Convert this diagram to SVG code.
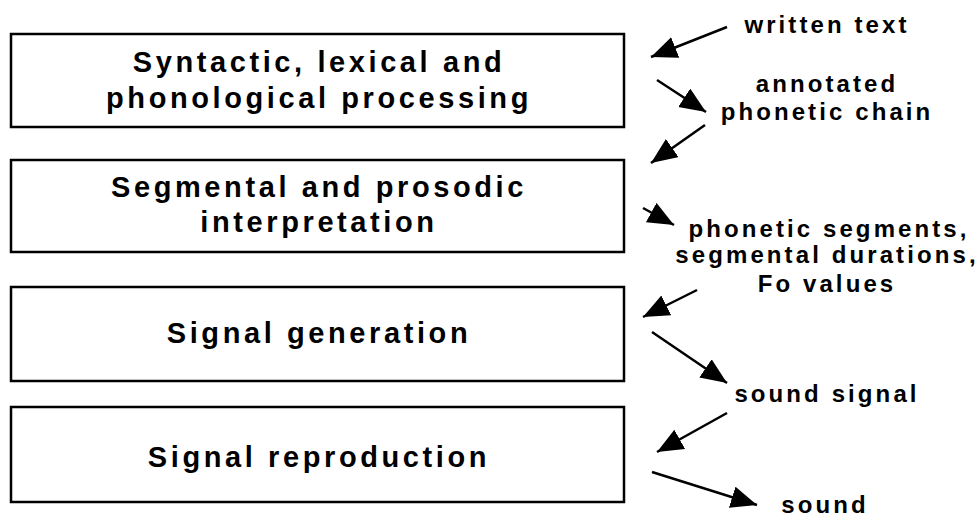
<svg xmlns="http://www.w3.org/2000/svg" width="979" height="518" viewBox="0 0 979 518">
<style>
.box{fill:#fff;stroke:#000;stroke-width:2.5}
.bt{font-family:"Liberation Sans",Arial,sans-serif;font-weight:bold;font-size:29px;letter-spacing:3.6px;text-anchor:middle;fill:#000}
.lt{font-family:"Liberation Sans",Arial,sans-serif;font-weight:bold;font-size:24px;letter-spacing:3.1px;text-anchor:middle;fill:#000}
.ar{stroke:#000;stroke-width:2.5;fill:none;marker-end:url(#ah)}
</style>
<defs>
<marker id="ah" markerUnits="userSpaceOnUse" markerWidth="28" markerHeight="24" refX="26" refY="11" orient="auto">
<path d="M0,0 L26,11 L0,22 z" fill="#000"/>
</marker>
</defs>
<rect width="979" height="518" fill="#fff"/>
<g id="node1"><rect class="box" x="11" y="34" width="613" height="93"/>
<text class="bt" x="319" y="72">Syntactic, lexical and</text>
<text class="bt" x="319" y="108">phonological processing</text></g>
<g id="node2"><rect class="box" x="11" y="160" width="613" height="92"/>
<text class="bt" x="319" y="197">Segmental and prosodic</text>
<text class="bt" x="319" y="232">interpretation</text></g>
<g id="node3"><rect class="box" x="11" y="287" width="613" height="94"/>
<text class="bt" x="319" y="343">Signal generation</text></g>
<g id="node4"><rect class="box" x="11" y="407" width="613" height="95"/>
<text class="bt" x="319" y="467">Signal reproduction</text></g>
<g id="labels">
<text class="lt" x="827" y="33">written text</text>
<text class="lt" x="827" y="92">annotated</text>
<text class="lt" x="827" y="120">phonetic chain</text>
<text class="lt" x="829" y="237">phonetic segments,</text>
<text class="lt" x="827" y="263">segmental durations,</text>
<text class="lt" x="827" y="292">Fo values</text>
<text class="lt" x="827" y="402">sound signal</text>
<text class="lt" x="825" y="513">sound</text>
</g>
<g id="connectors">
<line class="ar" x1="727" y1="27" x2="651" y2="57"/>
<line class="ar" x1="657" y1="80" x2="706" y2="112"/>
<line class="ar" x1="705" y1="125" x2="651" y2="163"/>
<line class="ar" x1="643" y1="208" x2="674" y2="225"/>
<line class="ar" x1="697" y1="290" x2="643" y2="317"/>
<line class="ar" x1="652" y1="332" x2="727" y2="383"/>
<line class="ar" x1="727" y1="413" x2="657" y2="452"/>
<line class="ar" x1="652" y1="472" x2="757" y2="505"/>
</g>
</svg>
